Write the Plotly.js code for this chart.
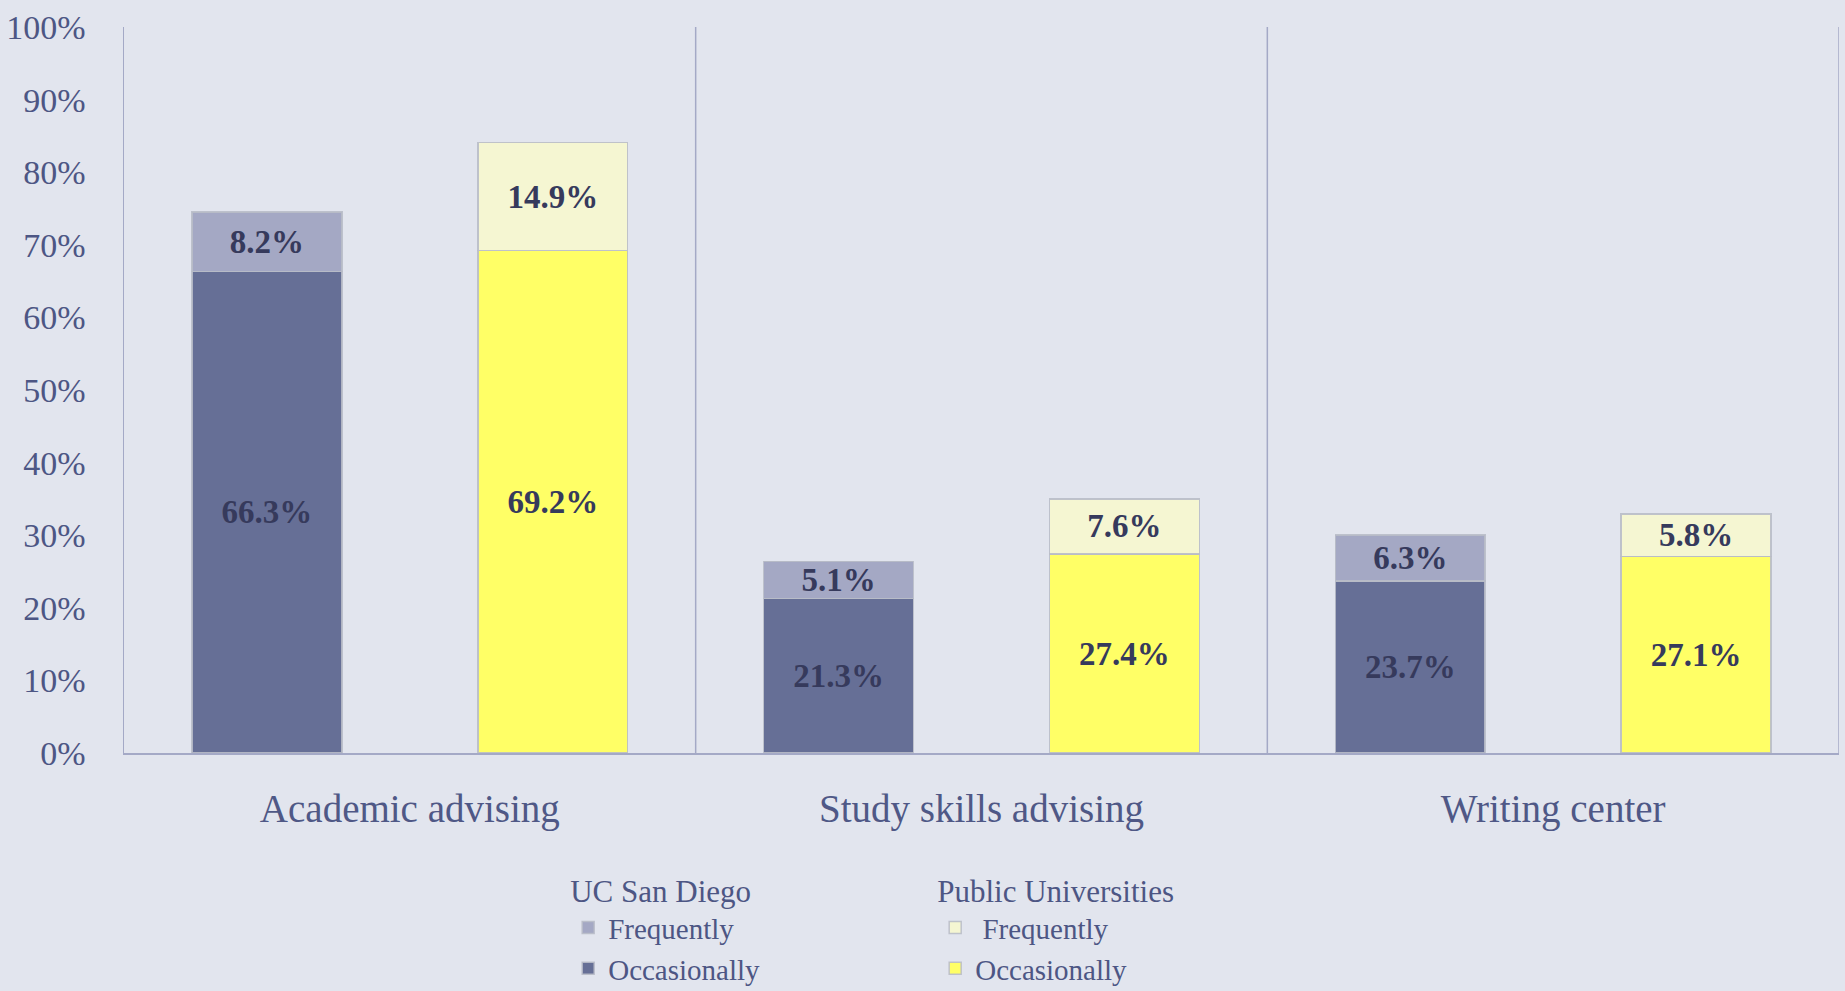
<!DOCTYPE html>
<html>
<head>
<meta charset="utf-8">
<script src="https://cdn.plot.ly/plotly-3.0.1.min.js"></script>
<style>
html,body{margin:0;padding:0;background:#e2e5ee;}
#chart{width:1845px;height:991px;}
</style>
</head>
<body>
<div id="chart"></div>
<script>
const categories = ["Academic advising", "Study skills advising", "Writing center"];
const ucsdOccasionally = [66.3, 21.3, 23.7];
const ucsdFrequently = [8.2, 5.1, 6.3];
const pubOccasionally = [69.2, 27.4, 27.1];
const pubFrequently = [14.9, 7.6, 5.8];
const yTickVals = [0,10,20,30,40,50,60,70,80,90,100];
const yTickText = ["0%","10%","20%","30%","40%","50%","60%","70%","80%","90%","100%"];

const xUC = categories.map((c,i)=>i-0.25);
const xPub = categories.map((c,i)=>i+0.25);
const catPos = categories.map((c,i)=>i);

const FAM = '"Liberation Serif", "Times New Roman", Times, serif';
const labelFont = {family:FAM, size:33, color:"#363a5c", weight:700};
const lineStyle = {color:"rgba(185,188,200,0.9)", width:1.5};
const barW = 0.262;

function tr(x, y, name, color, legend){
  return {
    type:"bar", x:x, y:y, name:name, width:barW, legend:legend,
    marker:{color:color, line:lineStyle},
    text:y.map(v=>v.toFixed(1)+"%"), textposition:"inside", insidetextanchor:"middle",
    textfont:labelFont, constraintext:"none", hoverinfo:"skip", cliponaxis:false
  };
}

const data = [
  tr(xUC, ucsdOccasionally, "Occasionally", "#666f96", "legend"),
  tr(xUC, ucsdFrequently, "Frequently", "#a4a8c4", "legend"),
  tr(xPub, pubOccasionally, "Occasionally", "#ffff66", "legend2"),
  tr(xPub, pubFrequently, " Frequently", "#f5f6d2", "legend2")
];

const axisColor = "#a4a9c6";
const shapes = [0.5,1.5,2.5].map(v=>({type:"line", xref:"x", yref:"y", x0:v, x1:v, y0:0, y1:100, line:{color:axisColor, width:1.5}}));

const legendFont = {family:FAM, size:29, color:"#4d5684"};
const legendTitleFont = {family:FAM, size:31, color:"#4d5684"};
const layout = {
  width:1845, height:991,
  font:{family:FAM},
  paper_bgcolor:"#e2e5ee", plot_bgcolor:"#e2e5ee",
  margin:{l:124, r:6, t:27, b:238, autoexpand:false},
  barmode:"stack", bargap:0,
  showlegend:true,
  uniformtext:{mode:"show", minsize:33},
  xaxis:{
    range:[-0.5,2.5], tickvals:catPos, ticktext:categories, ticks:"",
    showgrid:false, zeroline:false, showline:true, linecolor:axisColor, linewidth:1.5,
    tickfont:{family:FAM, size:39, color:"#4f5886"},
    ticklabelstandoff:21, fixedrange:true
  },
  yaxis:{
    range:[0,100], tickvals:yTickVals, ticktext:yTickText, ticks:"",
    showgrid:false, zeroline:false, showline:true, linecolor:axisColor, linewidth:1.5,
    tickfont:{family:FAM, size:34, color:"#4d5684"},
    ticklabelstandoff:30, fixedrange:true
  },
  shapes:shapes,
  legend:{
    title:{text:"UC San Diego", font:legendTitleFont}, font:legendFont,
    x:0.259, y:-0.150, xanchor:"left", yanchor:"top", orientation:"v",
    traceorder:"reversed", bgcolor:"rgba(0,0,0,0)", itemwidth:30, tracegroupgap:0
  },
  legend2:{
    title:{text:"Public Universities", font:legendTitleFont}, font:legendFont,
    x:0.473, y:-0.150, xanchor:"left", yanchor:"top", orientation:"v",
    traceorder:"reversed", bgcolor:"rgba(0,0,0,0)", itemwidth:30, tracegroupgap:0
  }
};

Plotly.newPlot("chart", data, layout, {displayModeBar:false, staticPlot:true});
</script>
</body>
</html>
